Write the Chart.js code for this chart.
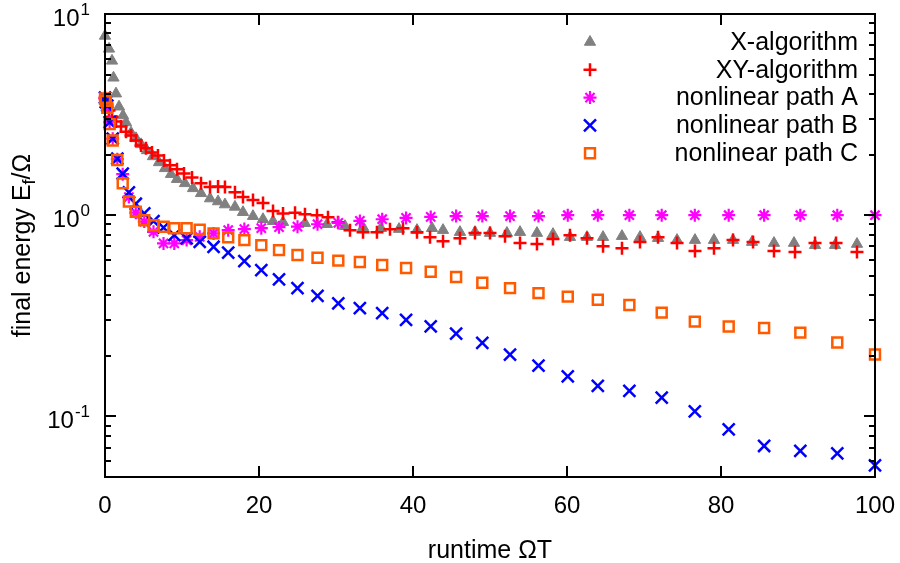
<!DOCTYPE html>
<html>
<head>
<meta charset="utf-8">
<script src="https://cdn.jsdelivr.net/npm/chart.js@4.4.1/dist/chart.umd.min.js"></script>
<style>
  html, body { margin: 0; padding: 0; background: #fff; }
  canvas { display: block; }
</style>
</head>
<body>
<canvas id="energyChart" width="900" height="563"></canvas>
<script>
// runtime values (ΩT) and final energies E_f/Ω for each protocol
const xAlgoT = [0, 0.52, 0.91, 1.1, 1.43, 1.82, 2.34, 2.73, 3.38, 4.03, 4.68, 5.45, 6.23, 7.01, 7.79, 8.57, 9.35, 10.39, 11.43, 12.47,
    13.64, 14.68, 15.58, 16.88, 17.92, 19.22, 20.52, 21.82, 23.12, 25.97, 28.83, 31.17, 33.51, 35.84, 38.18, 40.52, 42.47, 43.9, 46.1, 48.05,
    50.0, 52.2, 53.9, 56.1, 58.18, 60.39, 62.6, 64.68, 67.14, 69.48, 71.82, 74.29, 76.62, 79.09, 81.56, 84.03, 86.88, 89.48, 92.21, 94.81, 97.66];
const xAlgoE = [7.78, 6.71, 5.85, 4.82, 4.02, 3.46, 3.13, 2.89, 2.57, 2.41, 2.25, 2.10, 1.96, 1.83, 1.71, 1.60, 1.51, 1.44, 1.36, 1.285,
    1.21, 1.17, 1.13, 1.10, 1.035, 0.989, 0.955, 0.934, 0.923, 0.913, 0.902, 0.882, 0.872, 0.862, 0.853, 0.843, 0.862, 0.843, 0.824, 0.824,
    0.815, 0.815, 0.824, 0.815, 0.805, 0.778, 0.778, 0.778, 0.787, 0.778, 0.769, 0.752, 0.752, 0.752, 0.752, 0.735, 0.727, 0.727, 0.710, 0.710, 0.719];

const xyAlgoT = [0, 0.26, 0.52, 0.91, 1.43, 2.08, 2.73, 3.38, 4.03, 4.68, 5.32, 6.10, 6.88, 7.66, 8.44, 9.35, 10.26, 11.30, 12.47, 13.64,
    14.68, 15.58, 16.88, 17.92, 19.22, 20.52, 21.82, 23.12, 24.68, 25.97, 27.53, 28.96, 30.26, 31.82, 33.51, 35.32, 37.01, 38.70, 40.52, 42.21,
    43.90, 46.10, 48.05, 50.00, 51.95, 53.90, 56.10, 58.18, 60.39, 62.60, 64.68, 67.14, 69.48, 71.82, 74.29, 76.62, 79.09, 81.56, 84.16, 86.88,
    89.61, 92.21, 94.94, 97.66];
const xyAlgoE = [3.84, 3.54, 3.31, 3.09, 2.92, 2.76, 2.60, 2.49, 2.35, 2.22, 2.15, 2.05, 1.98, 1.87, 1.77, 1.69, 1.61, 1.54, 1.44, 1.38,
    1.39, 1.38, 1.30, 1.23, 1.19, 1.15, 1.05, 1.02, 1.03, 1.01, 1.00, 0.977, 0.923, 0.843, 0.824, 0.824, 0.852, 0.862, 0.824, 0.778,
    0.743, 0.769, 0.815, 0.815, 0.787, 0.727, 0.719, 0.761, 0.796, 0.769, 0.702, 0.686, 0.735, 0.778, 0.727, 0.664, 0.686, 0.752, 0.735, 0.664,
    0.656, 0.727, 0.727, 0.656];

// the three nonlinear paths share one runtime grid
const pathT = [0, 0.1, 0.3, 0.6, 1.0, 1.6, 2.3, 3.1, 4.0, 5.1, 6.3, 7.6, 9.0, 10.6, 12.3, 14.1, 16.0, 18.1, 20.3, 22.6,
    25.0, 27.6, 30.3, 33.1, 36.0, 39.1, 42.3, 45.6, 49.0, 52.6, 56.3, 60.1, 64.0, 68.1, 72.3, 76.6, 81.0, 85.6, 90.3, 95.1, 100];
const pathAE = [3.8, 3.7, 3.45, 2.9, 2.4, 1.9, 1.6, 1.23, 1.03, 0.93, 0.827, 0.724, 0.724, 0.752, 0.781, 0.812, 0.843, 0.853, 0.862, 0.872,
    0.877, 0.902, 0.916, 0.937, 0.955, 0.970, 0.981, 0.99, 0.99, 0.99, 0.99, 1.0, 1.0, 1.0, 1.0, 1.0, 1.0, 1.0, 1.0, 1.0, 1.0];
const pathBE = [3.84, 3.65, 3.50, 2.90, 2.40, 1.91, 1.61, 1.30, 1.14, 1.02, 0.935, 0.867, 0.796, 0.767, 0.738, 0.697, 0.651, 0.592, 0.534, 0.480,
    0.434, 0.397, 0.365, 0.345, 0.326, 0.302, 0.280, 0.258, 0.232, 0.203, 0.179, 0.158, 0.142, 0.134, 0.124, 0.106, 0.0862, 0.0713, 0.0674, 0.0656, 0.0571];
const pathCE = [3.8, 3.7, 3.42, 2.84, 2.35, 1.88, 1.44, 1.17, 1.04, 0.944, 0.892, 0.877, 0.862, 0.862, 0.848, 0.812, 0.776, 0.752, 0.710, 0.671,
    0.634, 0.615, 0.595, 0.585, 0.566, 0.547, 0.524, 0.493, 0.462, 0.434, 0.410, 0.394, 0.380, 0.358, 0.328, 0.296, 0.280, 0.275, 0.261, 0.233, 0.203];

const seriesNames = ['X-algorithm', 'XY-algorithm', 'nonlinear path A', 'nonlinear path B', 'nonlinear path C'];
const xTickValues = [0, 20, 40, 60, 80, 100];
const yDecades = [-1, 0, 1];
const yMinorTicks = [0.06, 0.07, 0.08, 0.09, 0.2, 0.3, 0.4, 0.5, 0.6, 0.7, 0.8, 0.9, 2, 3, 4, 5, 6, 7, 8, 9];

const FONT = "'Liberation Sans', Arial, sans-serif";

const toPoints = (xs, ys) => xs.map((x, i) => ({ x, y: ys[i] }));

const markers = [
    { pointStyle: 'triangle', radius: 6.5, borderWidth: 1, color: '#808080' },
    { pointStyle: 'cross', radius: 6.5, borderWidth: 2.5, color: '#ff0000' },
    { pointStyle: 'star', radius: 6.5, borderWidth: 2.2, color: '#ff00ff' },
    { pointStyle: 'crossRot', radius: 8.5, borderWidth: 2.5, color: '#0000ff' },
    { pointStyle: 'rect', radius: 7, borderWidth: 2.5, color: '#ff5a00', hollow: true }
];

const seriesData = [
    toPoints(xAlgoT, xAlgoE),
    toPoints(xyAlgoT, xyAlgoE),
    toPoints(pathT, pathAE),
    toPoints(pathT, pathBE),
    toPoints(pathT, pathCE)
];

const datasets = seriesNames.map((name, i) => {
    const m = markers[i];
    return {
        label: name,
        data: seriesData[i],
        showLine: false,
        clip: false,
        order: 5 - i,
        pointStyle: m.pointStyle,
        pointRadius: m.radius,
        pointBorderWidth: m.borderWidth,
        pointBorderColor: m.color,
        pointBackgroundColor: m.hollow ? 'rgba(0,0,0,0)' : m.color
    };
});

// 10 with a raised exponent, right aligned at xRight
function drawPower(ctx, exp, xRight, yTick) {
    const base = '10', sup = String(exp);
    ctx.font = '24px ' + FONT;
    const wb = ctx.measureText(base).width;
    ctx.font = '17px ' + FONT;
    const ws = ctx.measureText(sup).width;
    ctx.textAlign = 'left';
    ctx.textBaseline = 'alphabetic';
    ctx.font = '24px ' + FONT;
    ctx.fillText(base, xRight - ws - wb - 1, yTick + 12);
    ctx.font = '17px ' + FONT;
    ctx.fillText(sup, xRight - ws, yTick + 1);
}

const axisFrame = {
    id: 'axisFrame',
    afterDatasetsDraw(chart) {
        const { ctx, chartArea: a, scales: { x, y } } = chart;
        ctx.save();
        ctx.strokeStyle = '#000';
        ctx.fillStyle = '#000';
        ctx.lineWidth = 2;
        ctx.beginPath();
        xTickValues.forEach(v => {
            const px = Math.round(x.getPixelForValue(v));
            ctx.moveTo(px, a.bottom); ctx.lineTo(px, a.bottom - 11);
            ctx.moveTo(px, a.top); ctx.lineTo(px, a.top + 11);
        });
        yDecades.forEach(d => {
            const py = Math.round(y.getPixelForValue(Math.pow(10, d)));
            ctx.moveTo(a.left, py); ctx.lineTo(a.left + 11, py);
            ctx.moveTo(a.right, py); ctx.lineTo(a.right - 11, py);
        });
        yMinorTicks.forEach(v => {
            const py = Math.round(y.getPixelForValue(v));
            ctx.moveTo(a.left, py); ctx.lineTo(a.left + 6, py);
            ctx.moveTo(a.right, py); ctx.lineTo(a.right - 6, py);
        });
        ctx.stroke();
        ctx.strokeRect(a.left, a.top, a.right - a.left, a.bottom - a.top);

        // tick labels
        ctx.font = '24px ' + FONT;
        ctx.textAlign = 'center';
        ctx.textBaseline = 'alphabetic';
        xTickValues.forEach(v => ctx.fillText(String(v), x.getPixelForValue(v), a.bottom + 36));
        yDecades.forEach(d => drawPower(ctx, d, a.left - 15, y.getPixelForValue(Math.pow(10, d))));

        // axis titles
        ctx.font = '25px ' + FONT;
        ctx.textAlign = 'center';
        ctx.fillText('runtime ΩT', (a.left + a.right) / 2, a.bottom + 81);

        ctx.save();
        ctx.translate(30, (a.top + a.bottom) / 2);
        ctx.rotate(-Math.PI / 2);
        const p1 = 'final energy E', p2 = 'f', p3 = '/Ω';
        ctx.font = '25px ' + FONT;
        const w1 = ctx.measureText(p1).width, w3 = ctx.measureText(p3).width;
        ctx.font = '18px ' + FONT;
        const w2 = ctx.measureText(p2).width;
        let cx = -(w1 + w2 + w3) / 2;
        ctx.textAlign = 'left';
        ctx.font = '25px ' + FONT;
        ctx.fillText(p1, cx, 0); cx += w1;
        ctx.font = '18px ' + FONT;
        ctx.fillText(p2, cx, 5); cx += w2;
        ctx.font = '25px ' + FONT;
        ctx.fillText(p3, cx, 0);
        ctx.restore();

        // key, top right inside the frame
        seriesNames.forEach((name, i) => {
            const m = markers[i];
            const ry = a.top + 28 + i * 27.8;
            ctx.strokeStyle = m.color;
            ctx.fillStyle = m.hollow ? 'rgba(0,0,0,0)' : m.color;
            ctx.lineWidth = m.borderWidth;
            Chart.helpers.drawPoint(ctx, { pointStyle: m.pointStyle, radius: m.radius, borderWidth: m.borderWidth, rotation: 0 }, 590, ry);
            ctx.fillStyle = '#000';
            ctx.font = '25px ' + FONT;
            ctx.textAlign = 'right';
            ctx.textBaseline = 'middle';
            ctx.fillText(name, 858, ry + 1);
        });
        ctx.restore();
    }
};

new Chart(document.getElementById('energyChart'), {
    type: 'scatter',
    data: { datasets },
    options: {
        responsive: false,
        animation: false,
        layout: { padding: { left: 105, right: 25, top: 14, bottom: 86 } },
        scales: {
            x: { type: 'linear', min: 0, max: 100, display: false },
            y: { type: 'logarithmic', min: 0.05, max: 10, display: false }
        },
        plugins: { legend: { display: false }, tooltip: { enabled: false } }
    },
    plugins: [axisFrame]
});
</script>
</body>
</html>
